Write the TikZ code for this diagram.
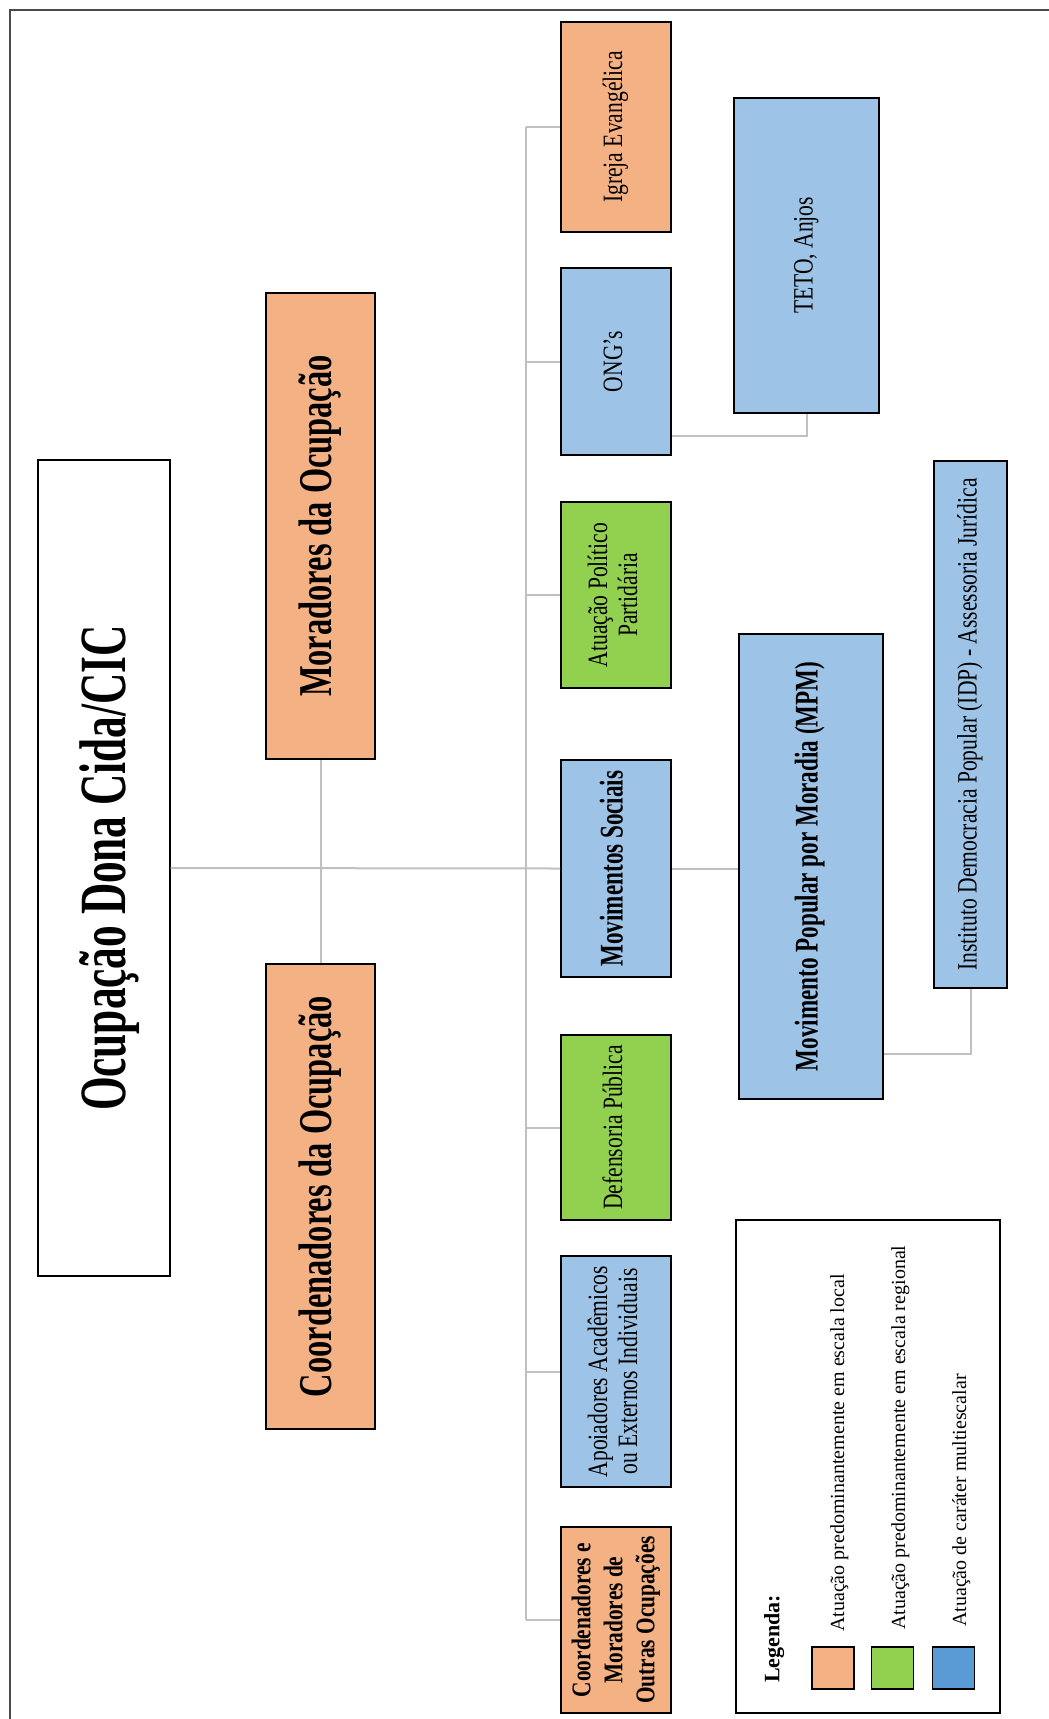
\documentclass[tikz,border=0pt]{standalone}
\usepackage{fontspec}
\setmainfont{Liberation Serif}
\usepackage{graphicx}
\usetikzlibrary{calc}
\definecolor{cOr}{HTML}{F4B183}
\definecolor{cGr}{HTML}{92D050}
\definecolor{cBl}{HTML}{9DC3E6}
\definecolor{cBlD}{HTML}{5B9BD5}
\definecolor{cLine}{HTML}{C0C0C0}
\definecolor{cFrame}{HTML}{4A4A4A}
% #1 font switch, #2 size, #3 skip, #4 stretch, #5 content
\newcommand{\vt}[5]{\rotatebox{90}{\scalebox{#4}[1]{#1\fontsize{#2}{#3}\selectfont\begin{tabular}{@{}c@{}}#5\end{tabular}}}}
\tikzset{
  box/.style={draw=black, line width=1.6pt, inner sep=0pt, anchor=center},
  obox/.style={box, fill=cOr},
  gbox/.style={box, fill=cGr},
  bbox/.style={box, fill=cBl},
  colbox/.style={minimum width=110pt},
  conn/.style={draw=cLine, line width=2pt},
  lgtext/.style={inner sep=0pt, anchor=south},
  lgsq/.style={draw=black, line width=1.4pt, minimum width=42pt, minimum height=42pt, inner sep=0pt}
}
\begin{document}
\begin{tikzpicture}[x=1pt,y=-1pt]
\useasboundingbox (0,0) rectangle (1049,1719);
\fill[white] (0,0) rectangle (1049,1719);
% frame
\draw[cFrame, line width=2.5pt] (10,1719) -- (10,10) -- (1049,10);

% main box
\node[box, fill=white, line width=1.4pt, minimum width=132pt, minimum height=816pt] (main) at (104,868)
  {\hspace*{16pt}\vt{\bfseries}{66}{66}{0.656}{Ocupação Dona Cida/CIC}};
\node[obox, minimum width=109pt, minimum height=466pt] (mor) at (320.5,526)
  {\hspace*{4pt}\vt{\bfseries}{47}{47}{0.69}{Moradores da Ocupação}};
\node[obox, minimum width=109pt, minimum height=465pt] (coord) at (320.5,1196.5)
  {\hspace*{4pt}\vt{\bfseries}{47}{47}{0.69}{Coordenadores da Ocupação}};

% column of boxes
\node[obox, colbox, minimum height=210pt] (igreja) at (616,127)
  {\vt{}{28}{30}{0.77}{Igreja Evangélica}};
\node[bbox, colbox, minimum height=187pt] (ong) at (616,361.5)
  {\vt{}{28}{30}{0.77}{ONG’s}};
\node[gbox, colbox, minimum height=186pt] (atu) at (616,595)
  {\vt{}{28}{30}{0.77}{Atuação Político\\Partidária}};
\node[bbox, colbox, minimum height=217pt] (movs) at (616,868.5)
  {\vt{\bfseries}{33}{33}{0.70}{Movimentos Sociais}};
\node[gbox, colbox, minimum height=185pt] (def) at (616,1127.5)
  {\vt{}{28}{30}{0.77}{Defensoria Pública}};
\node[bbox, colbox, minimum height=231pt] (apo) at (616,1371.5)
  {\vt{}{28}{30}{0.77}{Apoiadores Acadêmicos\\ou Externos Individuais}};
\node[obox, colbox, minimum height=186pt] (cmo) at (616,1620)
  {\vt{\bfseries}{27}{32}{0.79}{Coordenadores e\\Moradores de\\Outras Ocupações}};

% outer boxes
\node[bbox, minimum width=145pt, minimum height=315pt] (teto) at (806.5,255.5)
  {\vt{}{28}{30}{0.77}{TETO, Anjos}};
\node[bbox, minimum width=144pt, minimum height=465pt] (mpm) at (811,866.5)
  {\vt{\bfseries}{33}{33}{0.70}{Movimento Popular por Moradia (MPM)}};
\node[bbox, minimum width=73pt, minimum height=527pt] (idp) at (970.5,724.5)
  {\vt{}{28}{30}{0.77}{Instituto Democracia Popular (IDP) - Assessoria Jurídica}};

% connectors
\coordinate (busx) at (526,0);
\draw[conn] (main.east) -- (movs.west);
\draw[conn] (mor.south) -- (coord.north);
\draw[conn] (igreja.west -| busx) -- (cmo.west -| busx);
\foreach \n in {igreja,ong,atu,def,apo,cmo}{
  \draw[conn] (\n.west -| busx) -- (\n.west);
}
\draw[conn] (movs.east) -- (movs.east -| mpm.west);
\draw[conn] ($(ong.south east)+(0,-20)$) -| (teto.south);
\draw[conn] ($(mpm.south east)+(0,-46)$) -| (idp.south);

% legend
\node[draw=black, line width=1.4pt, minimum width=264pt, minimum height=493pt, inner sep=0pt] (leg) at (868,1466.5) {};
\node[lgtext] (legt) at (775,1683) {\vt{\bfseries}{22}{22}{1.0}{Legenda:}};
\node[lgsq, fill=cOr] (sq1) at (833,1668) {};
\node[lgsq, fill=cGr] (sq2) at (892.5,1668) {};
\node[lgsq, fill=cBlD] (sq3) at (953.5,1668) {};
\node[lgtext] (l1) at (840,1632) {\vt{}{20}{20}{1.0}{Atuação predominantemente em escala local}};
\node[lgtext] (l2) at (901,1630) {\vt{}{20}{20}{1.0}{Atuação predominantemente em escala regional}};
\node[lgtext] (l3) at (962,1627) {\vt{}{20}{20}{1.0}{Atuação de caráter multiescalar}};
\end{tikzpicture}
\end{document}
